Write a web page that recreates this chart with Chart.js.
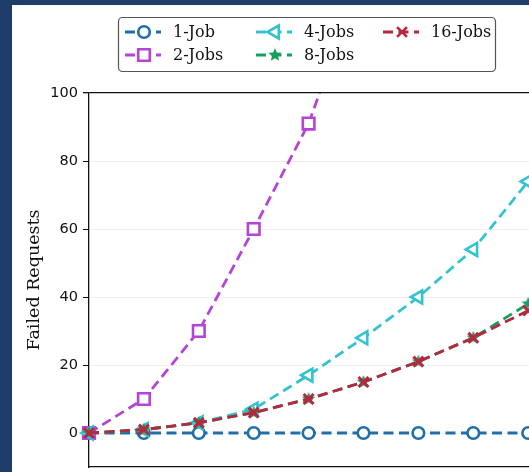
<!DOCTYPE html>
<html>
<head>
<meta charset="utf-8">
<script src="https://cdn.jsdelivr.net/npm/chart.js@4/dist/chart.umd.min.js"></script>
<style>
  html, body { margin: 0; padding: 0; background: #1f3d6b; overflow: hidden; }
  #wrap { position: absolute; left: 12px; top: 5px; width: 517px; height: 467px; overflow: hidden; background: #fff; }
  #chart { position: absolute; left: 0; top: 0; }
</style>
</head>
<body>
<div id="wrap"><canvas id="chart" width="640" height="520"></canvas></div>
<script>
// x positions of the runs (x tick labels are cropped out of the picture)
const steps = [0, 1, 2, 3, 4, 5, 6, 7, 8];
const seriesNames = ["1-Job", "2-Jobs", "4-Jobs", "8-Jobs", "16-Jobs"];
const oneJob = [0, 0, 0, 0, 0, 0, 0, 0, 0];
const twoJobs = [0, 10, 30, 60, 91, 136];
const fourJobs = [0, 1, 3, 7, 17, 28, 40, 54, 74];
const eightJobs = [0, 1, 3, 6, 10, 15, 21, 28, 38];
const sixteenJobs = [0, 1, 3, 6, 10, 15, 21, 28, 36];
const yTicks = [0, 20, 40, 60, 80, 100];

const colors = ["#1f6fa8", "#b544d6", "#33c3d0", "#14a05a", "#b5283f"];

function makeStar(color, r) {
    let c = document.createElement("canvas");
    c.width = c.height = Math.ceil(r * 2 + 2);
    let g = c.getContext("2d");
    let cx = c.width / 2, cy = c.height / 2;
    g.beginPath();
    for (let i = 0; i < 10; i++) {
        let rr = i % 2 == 0 ? r : r * 0.45;
        let a = -Math.PI / 2 + i * Math.PI / 5;
        g.lineTo(cx + rr * Math.cos(a), cy + rr * Math.sin(a));
    }
    g.closePath();
    g.fillStyle = color;
    g.fill();
    return c;
}
const star = makeStar(colors[3], 7);

const markers = [
    {pointStyle: "circle", radius: 5.8, rotation: 0, fill: "#fff"},
    {pointStyle: "rect", radius: 8.2, rotation: 0, fill: "#fff"},
    {pointStyle: "triangle", radius: 7.5, rotation: -90, fill: "#fff"},
    {pointStyle: star, radius: 7, rotation: 0, fill: colors[3]},
    {pointStyle: "crossRot", radius: 7, rotation: 0, fill: colors[4]}
];

const values = [oneJob, twoJobs, fourJobs, eightJobs, sixteenJobs];
const dash = [10, 5.5];

const datasets = values.map(function(vals, i) {
    return {
        label: seriesNames[i],
        data: vals.map(function(v, k) { return {x: steps[k], y: v}; }),
        borderColor: colors[i],
        backgroundColor: markers[i].fill,
        borderWidth: 2.8,
        borderDash: dash,
        pointStyle: markers[i].pointStyle,
        pointRadius: markers[i].radius,
        pointRotation: markers[i].rotation,
        pointBorderWidth: i == 4 ? 3 : 2.6,
        pointBackgroundColor: markers[i].fill,
        pointBorderColor: colors[i],
        tension: 0,
        order: 10 - i,
        clip: {left: 12, top: 0, right: 12, bottom: 12}
    };
});

// legend drawn in three columns like the original
const legendBox = {
    id: "legendBox",
    afterDraw(chart) {
        const ctx = chart.ctx;
        ctx.save();
        ctx.beginPath();
        ctx.roundRect(106.5, 12.5, 377, 54, 4);
        ctx.fillStyle = "#fff";
        ctx.fill();
        ctx.strokeStyle = "#555";
        ctx.lineWidth = 1.2;
        ctx.stroke();
        const cols = [113, 244, 371];
        const rows = [27, 50];
        const place = [[0, 0], [0, 1], [1, 0], [1, 1], [2, 0]];
        ctx.font = "16px 'DejaVu Serif'";
        ctx.textBaseline = "middle";
        seriesNames.forEach(function(name, i) {
            const x0 = cols[place[i][0]];
            const y = rows[place[i][1]];
            ctx.beginPath();
            ctx.setLineDash(dash);
            ctx.strokeStyle = colors[i];
            ctx.lineWidth = 2.8;
            ctx.moveTo(x0, y);
            ctx.lineTo(x0 + 36, y);
            ctx.stroke();
            ctx.setLineDash([]);
            ctx.fillStyle = markers[i].fill;
            ctx.strokeStyle = colors[i];
            ctx.lineWidth = 2.6;
            Chart.helpers.drawPoint(ctx, {
                pointStyle: markers[i].pointStyle,
                rotation: markers[i].rotation,
                radius: markers[i].radius,
                borderWidth: 2.6
            }, x0 + 19, y);
            ctx.fillStyle = "#111";
            ctx.fillText(name, x0 + 48, y + 1);
        });
        ctx.restore();
    }
};

new Chart(document.getElementById("chart"), {
    type: "line",
    data: {datasets: datasets},
    plugins: [legendBox],
    options: {
        responsive: false,
        animation: false,
        layout: {padding: {top: 88, right: 14, left: 0, bottom: 0}},
        plugins: {legend: {display: false}, tooltip: {enabled: false}},
        scales: {
            x: {
                type: "linear",
                min: 0,
                max: 10,
                grid: {display: false},
                ticks: {display: false},
                border: {color: "#111", width: 1.3},
                afterFit: function(s) { s.height = 58; }
            },
            y: {
                min: -10,
                max: 100,
                afterBuildTicks: function(s) { s.ticks = yTicks.map(function(v) { return {value: v}; }); },
                afterFit: function(s) { s.width = 77; },
                grid: {
                    color: function(c) { return c.tick && c.tick.value == 100 ? "#111" : "#efefef"; },
                    lineWidth: function(c) { return c.tick && c.tick.value == 100 ? 1.3 : 1; },
                    tickColor: "#111",
                    tickLength: 6
                },
                border: {color: "#111", width: 1.3},
                ticks: {
                    padding: 5,
                    color: "#111",
                    font: {family: "DejaVu Sans", size: 14.5}
                },
                title: {
                    display: true,
                    text: "Failed Requests",
                    color: "#111",
                    font: {family: "DejaVu Serif", size: 17.5},
                    padding: {top: 12, bottom: 0}
                }
            }
        }
    }
});
</script>
</body>
</html>
